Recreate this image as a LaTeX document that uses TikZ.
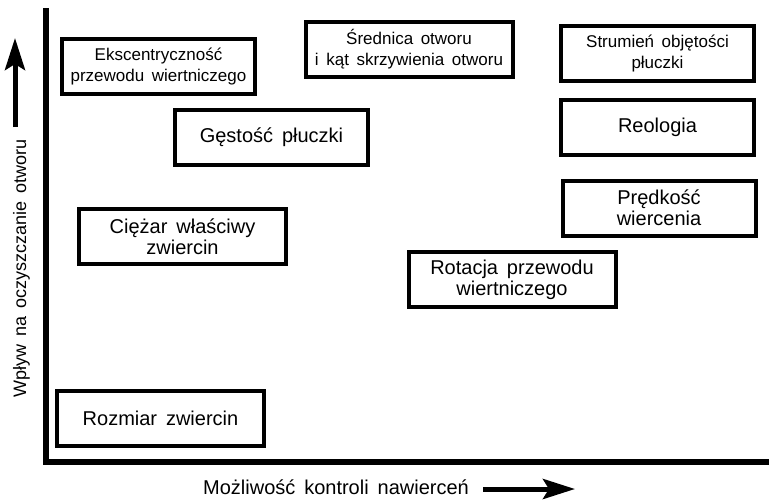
\documentclass[tikz,border=0pt]{standalone}
\usepackage{fontspec}
\setmainfont{Liberation Sans}[WordSpace=1.6]
\usepackage{tikz}
\usetikzlibrary{arrows.meta,positioning}
\tikzset{
  pole/.style={draw=black,line width=4pt,inner sep=0pt,align=center,minimum height=55pt},
  waskie/.style={pole,minimum width=193pt},
  szerokie/.style={pole,minimum width=207pt},
  maly/.style={font=\fontsize{17}{21}\selectfont},
  duzy/.style={font=\fontsize{20}{21}\selectfont},
  os/.style={line width=6.5pt,line join=miter},
  strzalka/.style={line width=5pt,-{Stealth[length=32pt,width=20pt,inset=6pt]}}
}

\begin{document}
\begin{tikzpicture}[x=1pt,y=-1pt]
\useasboundingbox (0,0) rectangle (769,499);
% osie wykresu
\coordinate (osG) at (46,8);
\coordinate (osR) at (46,462);
\coordinate (osP) at (769,462);
\draw[os] (osG) -- (osR) -- (osP);
% opisy osi
\node[duzy,anchor=base] (opisX) at (336,494) {Możliwość kontroli nawierceń};
\node[font=\fontsize{18}{21}\selectfont,rotate=90,anchor=base] (opisY) at (26,268) {Wpływ na oczyszczanie otworu};
\coordinate (xA) at (483,489); \coordinate (xB) at (575,489);
\coordinate (yA) at (15,127); \coordinate (yB) at (15,38);
\draw[strzalka] (xA) -- (xB);
\draw[strzalka] (yA) -- (yB);
% czynniki
\node[waskie,maly] (eksc) at (158.5,66.5) {Ekscentryczność\\przewodu wiertniczego};
\node[szerokie,maly] (srednica) at (409,49.5) {Średnica otworu\\i kąt skrzywienia otworu};
\node[waskie,maly] (strumien) at (657.5,53.5) {Strumień objętości\\płuczki};
\node[waskie,duzy] (gestosc) at (271.5,137.5) {Gęstość płuczki};
\node[waskie,duzy] (reologia) at (657.5,127.5) {Reologia};
\node[waskie,duzy] (predkosc) at (659,208) {Prędkość\\wiercenia};
\node[szerokie,duzy] (ciezar) at (182.5,236.5) {Ciężar właściwy\\zwiercin};
\node[szerokie,duzy] (rotacja) at (512,279.5) {Rotacja przewodu\\wiertniczego};
\node[szerokie,duzy] (rozmiar) at (160.5,418.5) {Rozmiar zwiercin};
\end{tikzpicture}
\end{document}
